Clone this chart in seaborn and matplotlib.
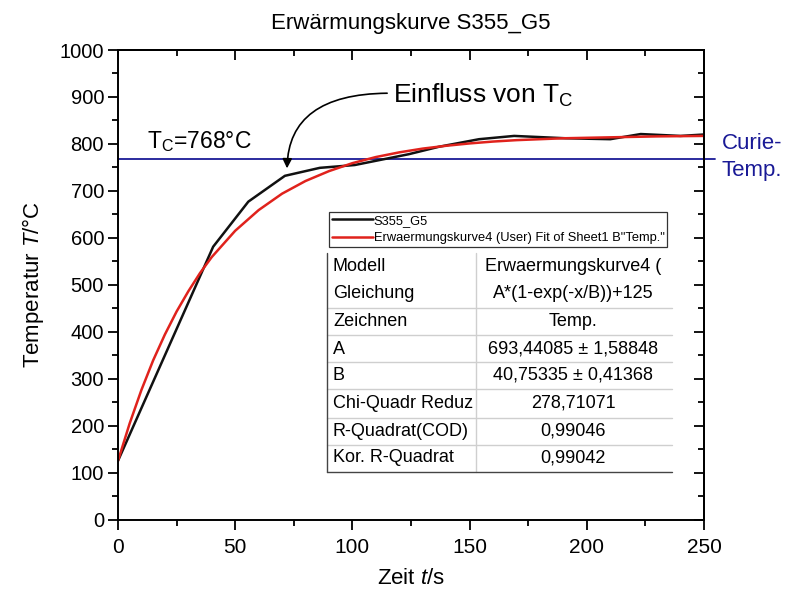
import matplotlib
matplotlib.use("Agg")
import matplotlib.pyplot as plt
import seaborn as sns
import pandas as pd
from matplotlib.lines import Line2D
from matplotlib.ticker import MultipleLocator

# ---- data ----
time_s = [0, 40.6, 55.6, 71.2, 86.1, 101, 112, 124, 137, 154, 169, 191, 210, 223, 240, 250]
temp_c = [125, 581, 677, 732, 749, 755, 766, 778, 794, 810, 817, 812, 810, 821, 817, 820]

fit_t = [0, 5, 10, 15, 20, 25, 30, 35, 40, 50, 60, 70, 80, 90, 100, 110, 120,
         130, 140, 150, 160, 170, 180, 190, 200, 210, 220, 230, 240, 250]
fit_temp = [125, 205, 276, 339, 394, 443, 486, 525, 559, 615, 659, 694, 721, 742, 759,
            772, 782, 790, 796, 801, 805, 808, 810, 812, 813, 814, 815, 816, 816.5, 817]

tc_value = 768
series_names = ["S355_G5", 'Erwaermungskurve4 (User) Fit of Sheet1 B"Temp."']

table_labels = ["Modell", "Gleichung", "Zeichnen", "A", "B",
                "Chi-Quadr Reduz", "R-Quadrat(COD)", "Kor. R-Quadrat"]
table_values = ["Erwaermungskurve4 (", "A*(1-exp(-x/B))+125", "Temp.",
                "693,44085 ± 1,58848", "40,75335 ± 0,41368",
                "278,71071", "0,99046", "0,99042"]

x_ticks = [0, 50, 100, 150, 200, 250]
y_ticks = [0, 100, 200, 300, 400, 500, 600, 700, 800, 900, 1000]

# ---- style ----
sns.set_theme(style="ticks")
FONT = "Liberation Sans"
plt.rcParams["font.family"] = [FONT, "DejaVu Sans"]
plt.rcParams["mathtext.fontset"] = "custom"
plt.rcParams["mathtext.rm"] = FONT
plt.rcParams["mathtext.it"] = FONT + ":italic"
plt.rcParams["mathtext.bf"] = FONT + ":bold"
for k in ["text.color", "axes.labelcolor", "xtick.color", "ytick.color", "axes.edgecolor"]:
    plt.rcParams[k] = "black"

W, H = 788, 591
fig = plt.figure(figsize=(W / 100, H / 100), dpi=100)

def P(x, y):
    return (x / W, 1 - y / H)

L, R, T, B = 118, 704, 50, 519.5
ax = fig.add_axes([L / W, 1 - B / H, (R - L) / W, (B - T) / H])

data = pd.DataFrame({"t": time_s, "T": temp_c})
fit = pd.DataFrame({"t": fit_t, "T": fit_temp})

BLACK = "#111111"
RED = "#e0221c"
NAVY = "#1a1a96"

sns.lineplot(data=data, x="t", y="T", ax=ax, color=BLACK, lw=1.8,
             label=series_names[0], sort=False)
sns.lineplot(data=fit, x="t", y="T", ax=ax, color=RED, lw=1.8,
             label=series_names[1], sort=False)

ax.axhline(tc_value, xmin=0, xmax=(715 - L) / (R - L), clip_on=False,
           color=NAVY, lw=1.3, zorder=1)

ax.set_xlim(0, 250)
ax.set_ylim(0, 1000)
ax.set_xticks(x_ticks)
ax.set_yticks(y_ticks)
ax.xaxis.set_minor_locator(MultipleLocator(25))
ax.yaxis.set_minor_locator(MultipleLocator(50))
ax.tick_params(which="major", direction="out", length=7, width=1.3,
               labelsize=14.5, colors="black", pad=3)
ax.tick_params(axis="x", which="major", pad=6, labelsize=15)
ax.tick_params(which="minor", direction="out", length=4, width=1.3)
for s in ax.spines.values():
    s.set_visible(True)
    s.set_linewidth(1.4)
    s.set_color("black")

# mirrored inward ticks on top / right
sx = ax.secondary_xaxis("top")
sx.set_xticks(x_ticks)
sx.xaxis.set_minor_locator(MultipleLocator(25))
sx.tick_params(which="major", direction="in", length=7, width=1.3, labeltop=False)
sx.tick_params(which="minor", direction="in", length=4, width=1.3)
sy = ax.secondary_yaxis("right")
sy.set_yticks(y_ticks)
sy.yaxis.set_minor_locator(MultipleLocator(50))
sy.tick_params(which="major", direction="in", length=7, width=1.3, labelright=False)
sy.tick_params(which="minor", direction="in", length=4, width=1.3)

ax.set_xlabel(r"Zeit $\mathit{t}$/s", fontsize=16, labelpad=8)
ax.set_ylabel(r"Temperatur $\mathit{T}$/°C", fontsize=16, labelpad=10)

fig.text(*P(411, 28.5), "Erwärmungskurve S355_G5", ha="center", va="baseline",
         fontsize=16)

# annotations
ax.text(12.3, 790.6, r"T$_\mathrm{C}$=768°C", fontsize=16.5, va="baseline", ha="left")
ax.text(117.5, 904, r"Einfluss von T$_\mathrm{C}$", fontsize=19, va="center", ha="left")
ax.annotate("", xy=(72.1, 742), xytext=(116, 908),
            arrowprops=dict(arrowstyle="-|>", color="black", lw=1.2,
                            mutation_scale=14,
                            connectionstyle="angle3,angleA=0,angleB=90"))
fig.text(*P(721.5, 149.3), "Curie-", color=NAVY, fontsize=16, va="baseline", ha="left")
fig.text(*P(721.5, 176), "Temp.", color=NAVY, fontsize=16, va="baseline", ha="left")

# legend
leg = ax.legend(loc="upper left", bbox_to_anchor=P(329, 212),
                bbox_transform=fig.transFigure, borderaxespad=0,
                fontsize=9.3, frameon=True, fancybox=False, framealpha=1,
                edgecolor="#333333", handlelength=3.2, handletextpad=0.05,
                labelspacing=0.45, borderpad=0.2)
leg.get_frame().set_linewidth(0.9)
for ln in leg.get_lines():
    ln.set_linewidth(1.8)

# fit result table
x0, xd, x1 = 327.3, 475.7, 671.7
ytop, ybot = 253, 471.7
grid_y = [308.3, 335, 361.7, 389.3, 417.7, 445]
light = "#cfcfcf"
dark = "#444444"
def hline(y, c, lw=1.0):
    fig.add_artist(Line2D([x0 / W, x1 / W], [1 - y / H, 1 - y / H], color=c, lw=lw))
def vline(x, c, lw=1.0):
    fig.add_artist(Line2D([x / W, x / W], [1 - ytop / H, 1 - ybot / H], color=c, lw=lw))
for gy in grid_y:
    hline(gy, light)
vline(xd, light)
vline(x0, dark)
hline(ybot, dark)

row_y = [266.7, 293, 321, 349, 375.5, 403, 431, 457.7]
for lab, val, ry in zip(table_labels, table_values, row_y):
    fig.text(*P(333, ry), lab, fontsize=13, va="center", ha="left")
    fig.text(*P(573, ry), val, fontsize=13, va="center", ha="center")

fig.savefig("out.png", dpi=100)
